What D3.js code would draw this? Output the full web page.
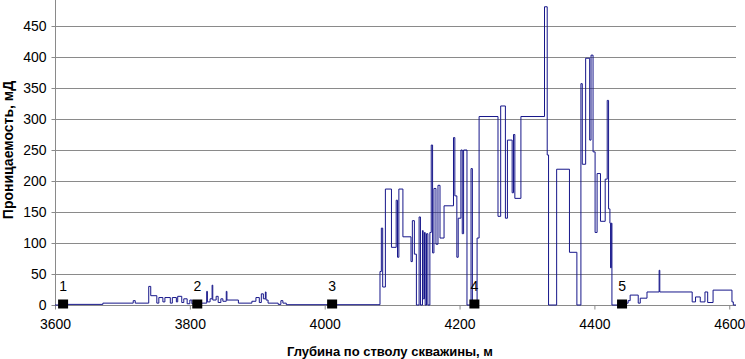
<!DOCTYPE html>
<html>
  <head>
    <meta charset="utf-8" />
    <style>
      body {
        margin: 0;
        background: white;
      }
      svg {
        display: block;
        font-family: 'Liberation Sans', Arial, sans-serif;
      }
      .grid-lines line {
        stroke: #8a8a8a;
        stroke-width: 1;
      }
      .axis path,
      .axis line {
        stroke: #8a8a8a;
      }
      .axis text {
        fill: black;
        font-size: 14px;
      }
      .axis-label {
        fill: black;
        font-weight: bold;
        text-anchor: middle;
      }
      .line-path {
        fill: none;
        stroke: #16168a;
        stroke-width: 1;
      }
      .point-label {
        font-size: 14px;
        text-anchor: middle;
      }
    </style>
  </head>
  <body>
    <script src="https://d3js.org/d3.v7.min.js"></script>
    <script>
      // глубина, м / проницаемость, мД (ступенчатая кривая)
      const depths = [
        3600, 3612, 3671, 3716, 3719, 3739, 3742, 3751, 3754, 3760, 3763, 3771, 3774, 3780, 3782,
        3788, 3791, 3796, 3800, 3803, 3815, 3825, 3826, 3830, 3833, 3834, 3839, 3842, 3846, 3849,
        3854, 3855, 3872, 3892, 3898, 3903, 3906, 3909, 3912, 3913, 3916, 3931, 3935, 3938, 3943,
        4079, 4082, 4084, 4086, 4090, 4099, 4106, 4108, 4110, 4116, 4128, 4130, 4133, 4136, 4140,
        4142, 4145, 4146, 4148, 4149, 4151, 4153, 4156, 4158, 4160, 4162, 4165, 4168, 4171, 4177,
        4191, 4193, 4196, 4198, 4202, 4204, 4206, 4211, 4217, 4219, 4226, 4229, 4257, 4261, 4268,
        4271, 4278, 4280, 4282, 4291, 4326, 4330, 4332, 4344, 4363, 4374, 4380, 4382, 4387, 4393,
        4395, 4398, 4401, 4404, 4409, 4416, 4419, 4421, 4423, 4424, 4425, 4426, 4447, 4450, 4453,
        4465, 4468, 4478, 4496, 4497, 4545, 4550, 4557, 4564, 4568, 4576, 4604, 4606, 4610,
      ];
      const perm = [
        0, 1, 3, 7, 3, 30, 15, 3, 12, 5, 12, 3, 12, 5, 14,
        4, 10, 2, 8, 2, 3, 22, 5, 10, 32, 8, 14, 4, 10, 6,
        22, 8, 3, 6, 12, 4, 18, 10, 21, 8, 3, 1, 7, 3, 0.5,
        0.5, 54, 124, 29, 187, 93, 169, 77, 187, 110, 70, 136, 82, 0, 142,
        0, 120, 10, 117, 0, 115, 0, 117, 258, 84, 188, 98, 193, 108, 160,
        270, 176, 77, 140, 250, 115, 250, 0, 220, 0, 108, 304, 143, 321, 140,
        266, 181, 275, 172, 304, 481, 242, 0, 219, 85, 0, 357, 227, 398, 266,
        403, 247, 117, 212, 135, 203, 330, 155, 132, 60, 132, 0, 3, 7, 16,
        3, 11, 21, 56, 21, 5, 13, 5, 21, 4, 24, 5, 0, 0,
      ];

      // реперные точки
      const markerNames = ['1', '2', '3', '4', '5'];
      const markerDepths = [3612, 3811, 4011, 4222, 4441];

      const xTicks = [3600, 3800, 4000, 4200, 4400, 4600];
      const yTicks = [0, 50, 100, 150, 200, 250, 300, 350, 400, 450];

      const width = 745;
      const height = 359;

      const svg = d3.select('body').append('svg').attr('width', width).attr('height', height);

      const xScale = d3.scaleLinear().domain([3600, 4610]).range([55, 736]);
      const yScale = d3.scaleLinear().domain([0, 450]).range([305, 26]);

      svg
        .append('g')
        .attr('class', 'grid-lines')
        .selectAll('line')
        .data(yTicks.slice(1))
        .join('line')
        .attr('x1', 55)
        .attr('x2', 736)
        .attr('y1', (d) => Math.round(yScale(d)) + 0.5)
        .attr('y2', (d) => Math.round(yScale(d)) + 0.5);

      svg
        .append('g')
        .attr('class', 'axis')
        .attr('transform', 'translate(0,305.5)')
        .call(
          d3
            .axisBottom(xScale)
            .tickValues(xTicks)
            .tickFormat(d3.format('d'))
            .tickSize(4)
            .tickSizeOuter(0)
            .tickPadding(10)
        )
        .call((g) => g.select('.domain').attr('d', 'M55,0H736'));

      svg
        .append('g')
        .attr('class', 'axis')
        .attr('transform', 'translate(55.5,0)')
        .call(d3.axisLeft(yScale).tickValues(yTicks).tickSize(4).tickSizeOuter(0).tickPadding(5))
        .call((g) => g.select('.domain').attr('d', 'M0,0V305.5'));

      const points = depths.map((d, i) => ({ depth: d, value: perm[i] }));

      const line = d3
        .line()
        .curve(d3.curveStepAfter)
        .x((d) => xScale(d.depth))
        .y((d) => yScale(d.value));

      svg.append('path').attr('class', 'line-path').attr('d', line(points));

      const markers = svg
        .append('g')
        .selectAll('g')
        .data(markerDepths.map((d, i) => ({ depth: d, name: markerNames[i] })))
        .join('g')
        .attr('transform', (d) => `translate(${xScale(d.depth)},304)`);

      markers.append('rect').attr('x', -5).attr('y', -4.5).attr('width', 10).attr('height', 9).attr('fill', 'black');

      markers
        .append('text')
        .attr('class', 'point-label')
        .attr('y', -13)
        .text((d) => d.name);

      svg
        .append('text')
        .attr('class', 'axis-label')
        .attr('font-size', 13)
        .attr('x', 390)
        .attr('y', 356)
        .text('Глубина по стволу скважины, м');

      svg
        .append('text')
        .attr('class', 'axis-label')
        .attr('font-size', 14)
        .attr('transform', 'rotate(-90)')
        .attr('x', -150)
        .attr('y', 13)
        .text('Проницаемость, мД');
    </script>
  </body>
</html>
